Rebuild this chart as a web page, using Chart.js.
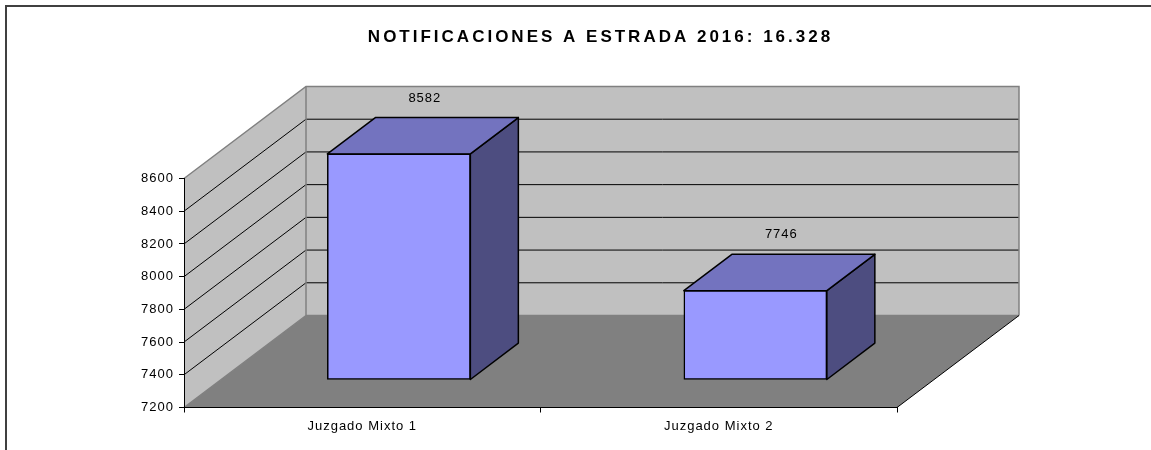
<!DOCTYPE html>
<html><head><meta charset="utf-8">
<style>html,body{margin:0;padding:0;background:#fff}#w{position:relative;width:1151px;height:450px}canvas{display:block}</style>
<script src="https://cdn.jsdelivr.net/npm/chart.js@4"></script>
</head><body><div id="w"><canvas id="c" width="1151" height="450"></canvas></div>
<script>
const categories = ['Juzgado Mixto 1', 'Juzgado Mixto 2'];
const seriesValues = [8582, 7746];
const titleText = 'NOTIFICACIONES A ESTRADA 2016: 16.328';
const yMin = 7200, yMax = 8600, yStep = 200;

const WALL = '#C0C0C0', FLOOR = '#808080', EDGE = '#808080';
const FRONT = '#9999FF', TOP = '#7373BF', SIDE = '#4D4D80';
const DX = 122, DY = -92;            // full depth of the box
const BX = 36.6, BY = -27.5;         // bar front offset
const DBX = 48, DBY = -36.4;         // bar depth
const FONT = '"Liberation Sans"';

function poly(ctx, pts, fill, stroke, lw) {
  ctx.beginPath();
  pts.forEach((p, i) => i ? ctx.lineTo(p[0], p[1]) : ctx.moveTo(p[0], p[1]));
  ctx.closePath();
  if (fill) { ctx.fillStyle = fill; ctx.fill(); }
  if (stroke) { ctx.strokeStyle = stroke; ctx.lineWidth = lw; ctx.lineJoin = 'round'; ctx.stroke(); }
}
const box3d = {
  id: 'box3d',
  beforeDraw(chart) {
    const ctx = chart.ctx, a = chart.chartArea, ys = chart.scales.y;
    ctx.letterSpacing = '1px';
    const tb = chart.titleBlock;
    if (tb && !tb._spaced) {
      const d = tb.draw.bind(tb);
      tb.draw = () => { ctx.letterSpacing = '3px'; d(); ctx.letterSpacing = '1px'; };
      tb._spaced = true;
    }
    ctx.save();
    // outer frame
    ctx.strokeStyle = '#404040'; ctx.lineWidth = 2;
    ctx.beginPath(); ctx.moveTo(6, 450); ctx.lineTo(6, 6); ctx.lineTo(1151, 6); ctx.stroke();
    const L = a.left, R = a.right, T = a.top, B = a.bottom;
    poly(ctx, [[L, T], [L + DX, T + DY], [L + DX, B + DY], [L, B]], WALL);
    poly(ctx, [[L + DX, T + DY], [R + DX, T + DY], [R + DX, B + DY], [L + DX, B + DY]], WALL);
    poly(ctx, [[L, B], [L + DX, B + DY], [R + DX, B + DY], [R, B]], FLOOR);
    ctx.strokeStyle = '#000'; ctx.lineWidth = 1;
    for (const t of ys.ticks) {
      if (t.value === yMin || t.value === yMax) continue;
      const y = ys.getPixelForValue(t.value);
      ctx.beginPath(); ctx.moveTo(L, y); ctx.lineTo(L + DX, y + DY); ctx.lineTo(R + DX, y + DY); ctx.stroke();
    }
    ctx.strokeStyle = EDGE; ctx.lineWidth = 1.5;
    ctx.beginPath(); ctx.moveTo(L, T); ctx.lineTo(L + DX, T + DY); ctx.lineTo(R + DX, T + DY); ctx.lineTo(R + DX, B + DY); ctx.stroke();
    ctx.beginPath(); ctx.moveTo(L + DX, T + DY); ctx.lineTo(L + DX, B + DY); ctx.lineTo(L, B); ctx.stroke();
    ctx.beginPath(); ctx.moveTo(L + DX, B + DY); ctx.lineTo(R + DX, B + DY); ctx.stroke();
    ctx.strokeStyle = '#000'; ctx.lineWidth = 1;
    ctx.beginPath(); ctx.moveTo(R, B); ctx.lineTo(R + DX, B + DY); ctx.stroke();
    ctx.restore();
  },
  beforeDatasetsDraw(chart) {
    const ctx = chart.ctx;
    ctx.save();
    ctx.translate(BX, BY);
    for (const el of chart.getDatasetMeta(0).data) {
      const l = el.x - el.width / 2, r = el.x + el.width / 2, t = el.y, b = el.base;
      poly(ctx, [[r, t], [r + DBX, t + DBY], [r + DBX, b + DBY], [r, b]], SIDE, '#000', 1.5);
      poly(ctx, [[l, t], [l + DBX, t + DBY], [r + DBX, t + DBY], [r, t]], TOP, '#000', 1.5);
    }
  },
  afterDatasetsDraw(chart) {
    const ctx = chart.ctx;
    ctx.restore();
    ctx.save();
    ctx.fillStyle = '#000';
    ctx.font = '13px ' + FONT;
    ctx.textAlign = 'center'; ctx.textBaseline = 'middle';
    chart.getDatasetMeta(0).data.forEach((el, i) => {
      ctx.fillText(String(seriesValues[i]), el.x + BX + 26, el.y + BY + DBY - 19.5);
    });
    ctx.restore();
  }
};
const tickFont = { family: FONT, size: 13 };
new Chart(document.getElementById('c'), {
  type: 'bar',
  plugins: [box3d],
  data: {
    labels: categories,
    datasets: [{ data: seriesValues, base: yMin, backgroundColor: FRONT, borderColor: '#000', borderWidth: 1.5, borderSkipped: false, barThickness: 143, clip: false }]
  },
  options: {
    responsive: false, animation: false,
    layout: { padding: { left: 50, right: 0, top: 0, bottom: 0 } },
    plugins: {
      legend: { display: false }, tooltip: { enabled: false },
      title: {
        display: true, text: titleText, color: '#000',
        font: { family: FONT, size: 17, weight: 'bold', lineHeight: 1 },
        padding: { top: 29, bottom: 132.5 }
      }
    },
    scales: {
      x: {
        grid: { drawOnChartArea: false, color: '#000', tickLength: 5, offset: true },
        border: { color: '#000', width: 1 },
        ticks: { color: '#000', font: tickFont, padding: 6, maxRotation: 0 },
        afterFit(s) { s.height = 42.5; }
      },
      y: {
        min: yMin, max: yMax,
        grid: { drawOnChartArea: false, color: '#000', tickLength: 5 },
        border: { color: '#000', width: 1 },
        ticks: { color: '#000', font: tickFont, stepSize: yStep, padding: 5, callback: v => String(v) },
        afterFit(s) { s.width = 134; }
      },
      y2: {
        position: 'right', min: yMin, max: yMax,
        grid: { display: false }, border: { display: false }, ticks: { display: false },
        afterFit(s) { s.width = 254; }
      }
    }
  }
});
</script></body></html>
